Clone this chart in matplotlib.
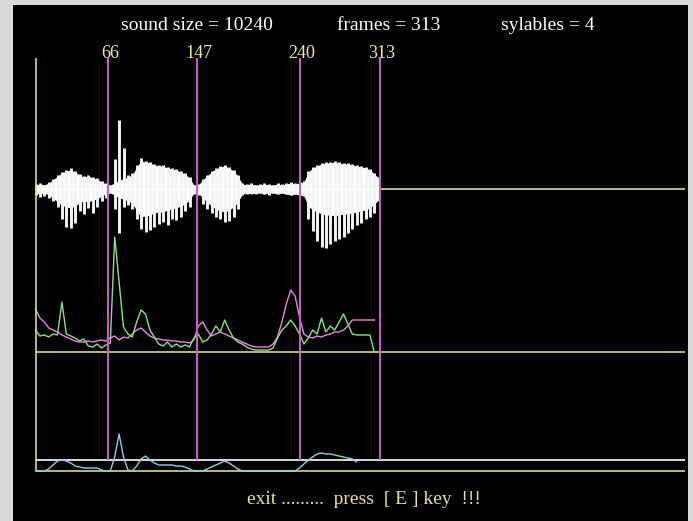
import numpy as np
import matplotlib
matplotlib.use("Agg")
import matplotlib.pyplot as plt

# syllable boundaries (frame numbers) and header values
marks = [66, 147, 240, 313]
sound_size = 10240
n_frames = 313
n_syl = 4

# waveform, sampled every 4 frames (screen px above / below the centre line)
wave_frames = list(range(0, 313, 4))
# solid part of the envelope
wave_body = [4, 5, 4, 6, 9, 13, 16, 18, 19, 17,
             14, 12, 13, 11, 10, 7, 5, 4, 6, 9,
             10, 12, 14, 22, 28, 27, 26, 24, 23, 23,
             21, 20, 19, 17, 15, 11, 4, 4, 9, 13,
             17, 20, 22, 23, 21, 18, 13, 5, 4, 5,
             4, 4, 5, 4, 4, 5, 4, 5, 6, 5,
             6, 7, 17, 21, 23, 25, 26, 26, 27, 26,
             25, 25, 24, 23, 22, 21, 19, 15, 11]
# spike tips above / below
wave_top = [5, 6, 4, 7, 10, 14, 17, 19, 21, 18,
            15, 13, 14, 12, 11, 8, 6, 4, 30, 69,
            41, 14, 16, 24, 31, 28, 27, 25, 24, 24,
            22, 21, 20, 18, 16, 12, 4, 5, 10, 14,
            18, 21, 23, 24, 22, 19, 14, 6, 5, 6,
            4, 5, 6, 5, 4, 6, 5, 6, 7, 6,
            7, 8, 18, 22, 24, 26, 27, 27, 28, 27,
            26, 26, 25, 24, 23, 22, 20, 16, 12]
wave_bot = [6, 8, 7, 9, 12, 18, 30, 38, 39, 34,
            22, 25, 19, 24, 18, 12, 9, 4, 20, 44,
            18, 16, 20, 30, 40, 43, 41, 38, 35, 33,
            36, 30, 31, 28, 22, 18, 5, 6, 15, 20,
            24, 28, 30, 33, 32, 28, 20, 6, 5, 4,
            5, 4, 5, 6, 4, 5, 4, 5, 6, 5,
            6, 7, 30, 42, 52, 58, 59, 55, 52, 50,
            48, 44, 40, 36, 34, 30, 28, 24, 10]

# energy curves (px above the middle baseline)
magenta = [43, 34, 30, 24, 22, 20, 17, 15, 13, 11,
           10, 10, 11, 10, 11, 12, 11, 14, 16, 12,
           15, 14, 18, 22, 24, 20, 16, 14, 13, 12,
           12, 11, 11, 10, 10, 9, 12, 26, 30, 22,
           16, 18, 20, 18, 16, 14, 12, 10, 8, 6,
           5, 5, 5, 5, 8, 15, 30, 48, 62, 56,
           35, 18, 15, 14, 16, 15, 17, 18, 20, 20,
           22, 26, 32, 32, 32, 32, 32, 32, np.nan]
green = [22, 16, 17, 15, 18, 17, 50, 18, 16, 14,
         11, 13, 6, 5, 8, 4, 7, 9, 115, 70,
         25, 18, 15, 30, 42, 38, 22, 15, 8, 6,
         10, 5, 8, 5, 7, 5, 14, 18, 10, 12,
         18, 26, 20, 32, 22, 14, 10, 8, 5, 3,
         2, 2, 2, 2, 4, 14, 22, 26, 32, 26,
         18, 8, 14, 22, 18, 34, 20, 26, 22, 30,
         38, 28, 18, 17, 17, 17, 17, 0, np.nan]
# bottom curve (px above the lower baseline)
cyan = [0, 0, 0, 2, 6, 10, 11, 10, 8, 5,
        4, 3, 3, 3, 3, 1, 0, 0, 14, 37,
        14, 1, 0, 5, 12, 15, 11, 8, 6, 6,
        6, 6, 5, 5, 4, 2, 0, 0, 0, 2,
        4, 6, 8, 10, 8, 5, 2, 0, 0, 0,
        0, 0, 0, 0, 0, 0, 0, 0, 0, 0,
        3, 7, 11, 14, 17, 18, 17, 17, 16, 15,
        14, 13, 12, 9, np.nan, np.nan, np.nan, np.nan, np.nan]

W, H = 693, 521
fig = plt.figure(figsize=(W / 100, H / 100), dpi=100)
fig.patch.set_facecolor('#dadada')

# black screen area; x in frames, y in screen px (downwards)
x0, sc = 35.5, 1.1
left, right, top = 13, 688, 5
ax = fig.add_axes([left / W, 0, (right - left) / W, (H - top) / H])
ax.set_facecolor('black')
ax.set_xlim((left - x0) / sc, (right - x0) / sc)
ax.set_ylim(H, top)
ax.set_xticks([])
ax.set_yticks([])
for s in ax.spines.values():
    s.set_visible(False)

xend = (685 - x0) / sc
yellow = '#d8d890'
wy, my, by = 189, 352, 471

wf = np.array(wave_frames)
ax.fill_between(wf, wy - np.array(wave_body), wy + np.array(wave_body),
                color='white', lw=0)
ax.vlines(wf, wy - np.array(wave_top), wy + np.array(wave_bot), color='#f4f4f4', lw=2.1)
ax.hlines(wy, 0, n_frames, color='white', lw=1)
ax.hlines(wy, n_frames, xend, color=yellow, lw=1.2)

ax.hlines(my, 0, xend, color=yellow, lw=1.2)
ax.plot(wf, my - np.array(magenta), color='#e488e4', lw=1)
ax.plot(wf, my - np.array(green), color='#8ee08a', lw=1)

ax.hlines(460, 0, xend, color='white', lw=1.2)
ax.hlines(by, 0, xend, color=yellow, lw=1.2)
ax.plot(wf, by - np.array(cyan), color='#8cd0e6', lw=1)

ax.vlines(0, 58, by, color=yellow, lw=1.2)
ax.vlines(marks, 58, 460, color='#c460c4', lw=1.5)

serif = 'Liberation Serif'
for m in marks:
    ax.text(m + 2, 53, str(m), color='#f0eca0', ha='center', va='center',
            fontsize=13, family=serif)

ax.text((197 - x0) / sc, 26, f"sound size = {sound_size}", color='white',
        ha='center', va='center', fontsize=14, family=serif)
ax.text((389 - x0) / sc, 26, f"frames = {n_frames}", color='white',
        ha='center', va='center', fontsize=14, family=serif)
ax.text((548 - x0) / sc, 26, f"sylables = {n_syl}", color='white',
        ha='center', va='center', fontsize=14, family=serif)
ax.text((364 - x0) / sc, 500, "exit .........  press  [ E ] key  !!!", color='#e6e0a0',
        ha='center', va='center', fontsize=14, family=serif)

fig.savefig('out.png', dpi=100, facecolor=fig.get_facecolor())
